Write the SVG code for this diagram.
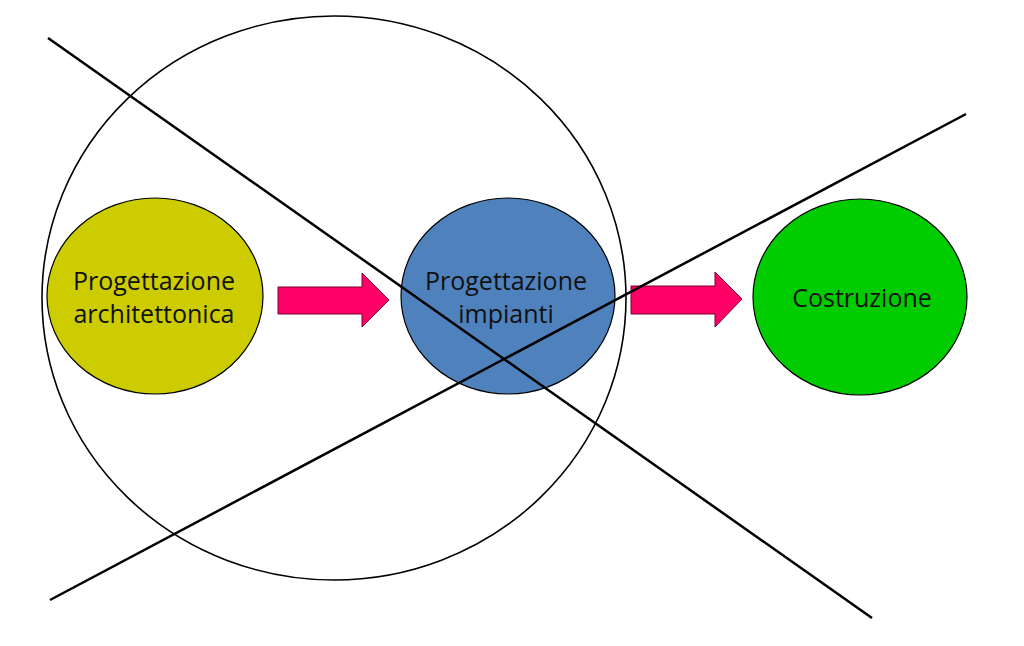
<svg xmlns="http://www.w3.org/2000/svg" width="1024" height="646" viewBox="0 0 1024 646">
<style>
.node{stroke:#000;stroke-width:1.2}
.lbl{font-family:"Open Sans","Liberation Sans",sans-serif;font-size:25px;fill:#111;text-anchor:middle}
.arr{fill:#FF0066;stroke:#7a0030;stroke-width:1}
.ln{stroke:#000;stroke-width:2.5;fill:none}
</style>
<rect width="1024" height="646" fill="#fff"/>
<g id="outer"><ellipse cx="334" cy="298" rx="292" ry="282" fill="none" stroke="#000" stroke-width="1.6"/></g>
<g id="n1"><ellipse class="node" cx="155" cy="296" rx="108" ry="98" fill="#CCCC00"/>
<text class="lbl" x="154" y="290">Progettazione</text><text class="lbl" x="154" y="323">architettonica</text></g>
<g id="n2"><ellipse class="node" cx="508" cy="296" rx="107" ry="98" fill="#4F81BD"/>
<text class="lbl" x="506" y="290">Progettazione</text><text class="lbl" x="506" y="323">impianti</text></g>
<g id="n3"><ellipse class="node" cx="860" cy="297" rx="107" ry="98" fill="#00CC00"/>
<text class="lbl" x="862" y="307">Costruzione</text></g>
<g id="connectors">
<polygon class="arr" points="278,287 362,287 362,273 389,300 362,327 362,314 278,314"/>
<polygon class="arr" points="631,286 715,286 715,272 742,299 715,327 715,314 631,314"/>
<line class="ln" x1="48" y1="38" x2="872" y2="618"/>
<line class="ln" x1="50" y1="600" x2="966" y2="114"/>
</g>
</svg>
